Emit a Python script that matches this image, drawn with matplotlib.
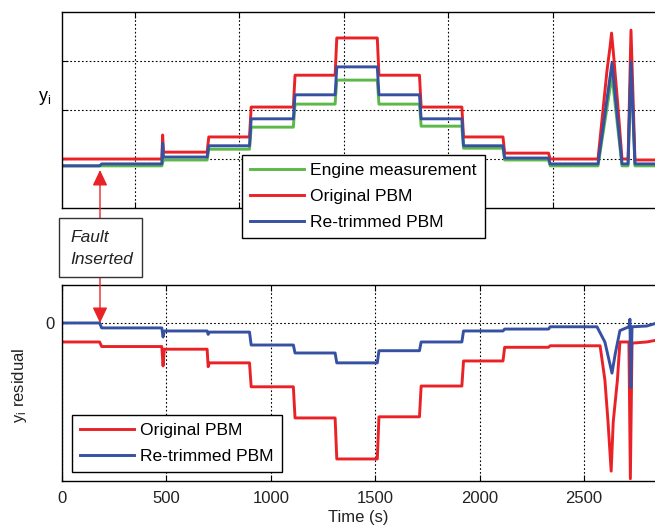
import matplotlib
matplotlib.use("Agg")
import matplotlib.pyplot as plt
from matplotlib.patches import Rectangle

plt.rcParams['font.family'] = ['Liberation Sans', 'DejaVu Sans']
plt.rcParams['mathtext.fontset'] = 'custom'
plt.rcParams['mathtext.rm'] = 'Liberation Sans'
plt.rcParams['mathtext.it'] = 'Liberation Sans:italic'

# ---------------- data ----------------
# top panel: y_i (arbitrary units, grid at 1,2,3)
t_eng = [0, 478, 486, 695, 703, 898, 906, 1108, 1116, 1308, 1316, 1510, 1518, 1712, 1720,
         1915, 1923, 2112, 2120, 2330, 2338, 2567, 2634, 2682, 2711, 2725, 2744, 2850]
y_eng = [0.86, 0.86, 0.98, 0.98, 1.20, 1.20, 1.65, 1.65, 2.12, 2.12, 2.61, 2.61, 2.12, 2.12, 1.67,
         1.67, 1.22, 1.22, 0.98, 0.98, 0.86, 0.86, 2.70, 0.86, 0.86, 2.90, 0.86, 0.86]

t_orig = [0, 478, 482, 486, 695, 703, 898, 906, 1108, 1116, 1308, 1316, 1510, 1518, 1712, 1720,
          1915, 1923, 2112, 2120, 2330, 2338, 2567, 2610, 2625, 2632, 2640, 2660, 2682, 2711,
          2725, 2744, 2850]
y_orig = [1.00, 1.00, 1.49, 1.14, 1.14, 1.45, 1.45, 2.06, 2.06, 2.71, 2.71, 3.47, 3.47, 2.71, 2.71, 2.06,
          2.06, 1.45, 1.45, 1.12, 1.12, 1.00, 1.00, 2.80, 3.30, 3.57, 3.20, 2.20, 1.00, 1.00,
          3.63, 0.98, 0.98]

t_retr = [0, 180, 190, 478, 482, 486, 695, 703, 898, 906, 1108, 1116, 1308, 1316, 1510, 1518,
          1712, 1720, 1915, 1923, 2112, 2120, 2330, 2338, 2567, 2634, 2682, 2711, 2725, 2744, 2850]
y_retr = [0.86, 0.86, 0.90, 0.90, 1.32, 1.04, 1.04, 1.27, 1.27, 1.82, 1.82, 2.31, 2.31, 2.88, 2.88, 2.31,
          2.31, 1.82, 1.82, 1.27, 1.27, 1.02, 1.02, 0.90, 0.90, 2.96, 0.90, 0.90, 2.98, 0.90, 0.90]

# bottom panel: y_i residual (arbitrary units, 0 line)
t_res_orig = [0, 180, 190, 478, 484, 490, 695, 700, 706, 898, 906, 1108, 1116, 1308, 1316, 1510,
              1518, 1712, 1720, 1915, 1923, 2112, 2120, 2330, 2338, 2577, 2600, 2615, 2630, 2640,
              2660, 2672, 2715, 2722, 2730, 2800, 2850]
r_orig = [-0.50, -0.50, -0.62, -0.62, -1.13, -0.69, -0.69, -1.15, -1.05, -1.05, -1.68, -1.68, -2.50,
          -2.50, -3.58, -3.58, -2.47, -2.47, -1.66, -1.66, -1.00, -1.00, -0.64, -0.64, -0.60, -0.60,
          -1.50, -2.60, -3.90, -2.60, -1.50, -0.50, -0.50, -4.10, -0.53, -0.50, -0.45]

t_res_retr = [0, 180, 190, 478, 484, 490, 695, 700, 706, 898, 906, 1108, 1116, 1308, 1316, 1510,
              1518, 1712, 1720, 1915, 1923, 2112, 2120, 2330, 2338, 2562, 2600, 2634, 2650, 2672,
              2715, 2720, 2724, 2730, 2800, 2850]
r_retr = [0.00, 0.00, -0.13, -0.13, -0.37, -0.21, -0.21, -0.30, -0.24, -0.24, -0.58, -0.58, -0.79,
          -0.79, -1.05, -1.05, -0.73, -0.73, -0.50, -0.50, -0.21, -0.21, -0.16, -0.16, -0.10, -0.10,
          -0.50, -1.32, -0.80, -0.20, -0.10, 0.10, -1.70, -0.10, -0.08, 0.00]

x_ticks_bottom = [0, 500, 1000, 1500, 2000, 2500]
x_grid_top = [350, 850, 1350, 1850, 2350]
y_grid_top = [1, 2, 3]
fault_time = 182

GREEN = '#5cb848'
RED = '#ea2227'
BLUE = '#3650a2'

W, H = 655, 529
fig = plt.figure(figsize=(W / 100, H / 100), dpi=100)

def fx(px):
    return px / W

def fy(py):
    return 1 - py / H

xmax = 2840
ax1 = fig.add_axes([fx(62), fy(208), fx(W - 62), 196 / H])
ax2 = fig.add_axes([fx(62), fy(481), fx(W - 62), 196 / H])

lw = 2.1
ax1.plot(t_eng, y_eng, color=GREEN, lw=lw, label='Engine measurement')
ax1.plot(t_orig, y_orig, color=RED, lw=lw, label='Original PBM')
ax1.plot(t_retr, y_retr, color=BLUE, lw=lw, label='Re-trimmed PBM')

ax2.plot(t_res_orig, r_orig, color=RED, lw=lw, label='Original PBM')
ax2.plot(t_res_retr, r_retr, color=BLUE, lw=lw, label='Re-trimmed PBM')

for ax in (ax1, ax2):
    ax.set_xlim(0, xmax)
    ax.spines['right'].set_visible(False)
    for s in ('left', 'top', 'bottom'):
        ax.spines[s].set_linewidth(1.0)
    ax.grid(True, color='black', linestyle=(0, (1.5, 2)), linewidth=0.8)
    ax.tick_params(direction='in', length=4, width=0.8, top=True, labelsize=12,
                   colors='black', labelcolor='#222222')

ax1.set_ylim(0, 4)
ax1.set_xticks(x_grid_top)
ax1.set_yticks(y_grid_top)
ax1.set_xticklabels([])
ax1.set_yticklabels([])
ax1.set_ylabel(r'$\mathrm{y_i}$', rotation=0, fontsize=13, labelpad=6, va='center')
ax1.yaxis.set_label_coords(-0.03, 0.56)

ax2.set_ylim(-4.16, 1.0)
ax2.set_xticks(x_ticks_bottom)
ax2.set_yticks([0])
ax2.set_yticklabels(['0'])
ax2.tick_params(axis='x', pad=7)
ax2.tick_params(axis='y', pad=5)
ax2.set_xlabel('Time (s)', fontsize=12, labelpad=3, color='#222222')
ax2.set_ylabel(r'$\mathrm{y_i}$ residual', fontsize=12, color='#222222')
ax2.yaxis.set_label_coords(-0.055, 0.49)

leg_kw = dict(fontsize=12.6, frameon=True, fancybox=False, borderaxespad=0,
              handlelength=3.1, handletextpad=0.35, labelspacing=0.62, borderpad=0.45,
              framealpha=1)
leg1 = ax1.legend(loc='upper left', bbox_to_anchor=(fx(242), fy(155)),
                  bbox_transform=fig.transFigure, **leg_kw)
leg1.get_frame().set_edgecolor('black')
leg1.get_frame().set_linewidth(1.0)
leg2 = ax2.legend(loc='upper left', bbox_to_anchor=(fx(72), fy(415)),
                  bbox_transform=fig.transFigure, **leg_kw)
leg2.get_frame().set_edgecolor('black')
leg2.get_frame().set_linewidth(1.0)

# Fault inserted box
box = Rectangle((fx(59), fy(277)), fx(83), 59 / H, transform=fig.transFigure,
                facecolor='white', edgecolor='#333333', linewidth=1.0, zorder=5)
fig.patches.append(box)
fig.text(fx(70), fy(237), 'Fault', fontsize=12.5, style='italic', va='center', ha='left',
         color='#222222', zorder=7)
fig.text(fx(70), fy(259), 'Inserted', fontsize=12.5, style='italic', va='center', ha='left',
         color='#222222', zorder=7)

arrow = dict(arrowstyle='-|>,head_length=0.95,head_width=0.45', color=RED, lw=1.0,
             mutation_scale=10, shrinkA=0, shrinkB=0)
ax1.annotate('', xy=(fault_time, (208 - 170) / 49), xytext=(fault_time, (208 - 218) / 49),
             xycoords='data', textcoords='data', arrowprops=arrow, annotation_clip=False)
ax2.annotate('', xy=(fault_time, 0.0), xytext=(fault_time, (323 - 277) / 38),
             xycoords='data', textcoords='data', arrowprops=arrow, annotation_clip=False)

fig.savefig('out.png', dpi=100)
